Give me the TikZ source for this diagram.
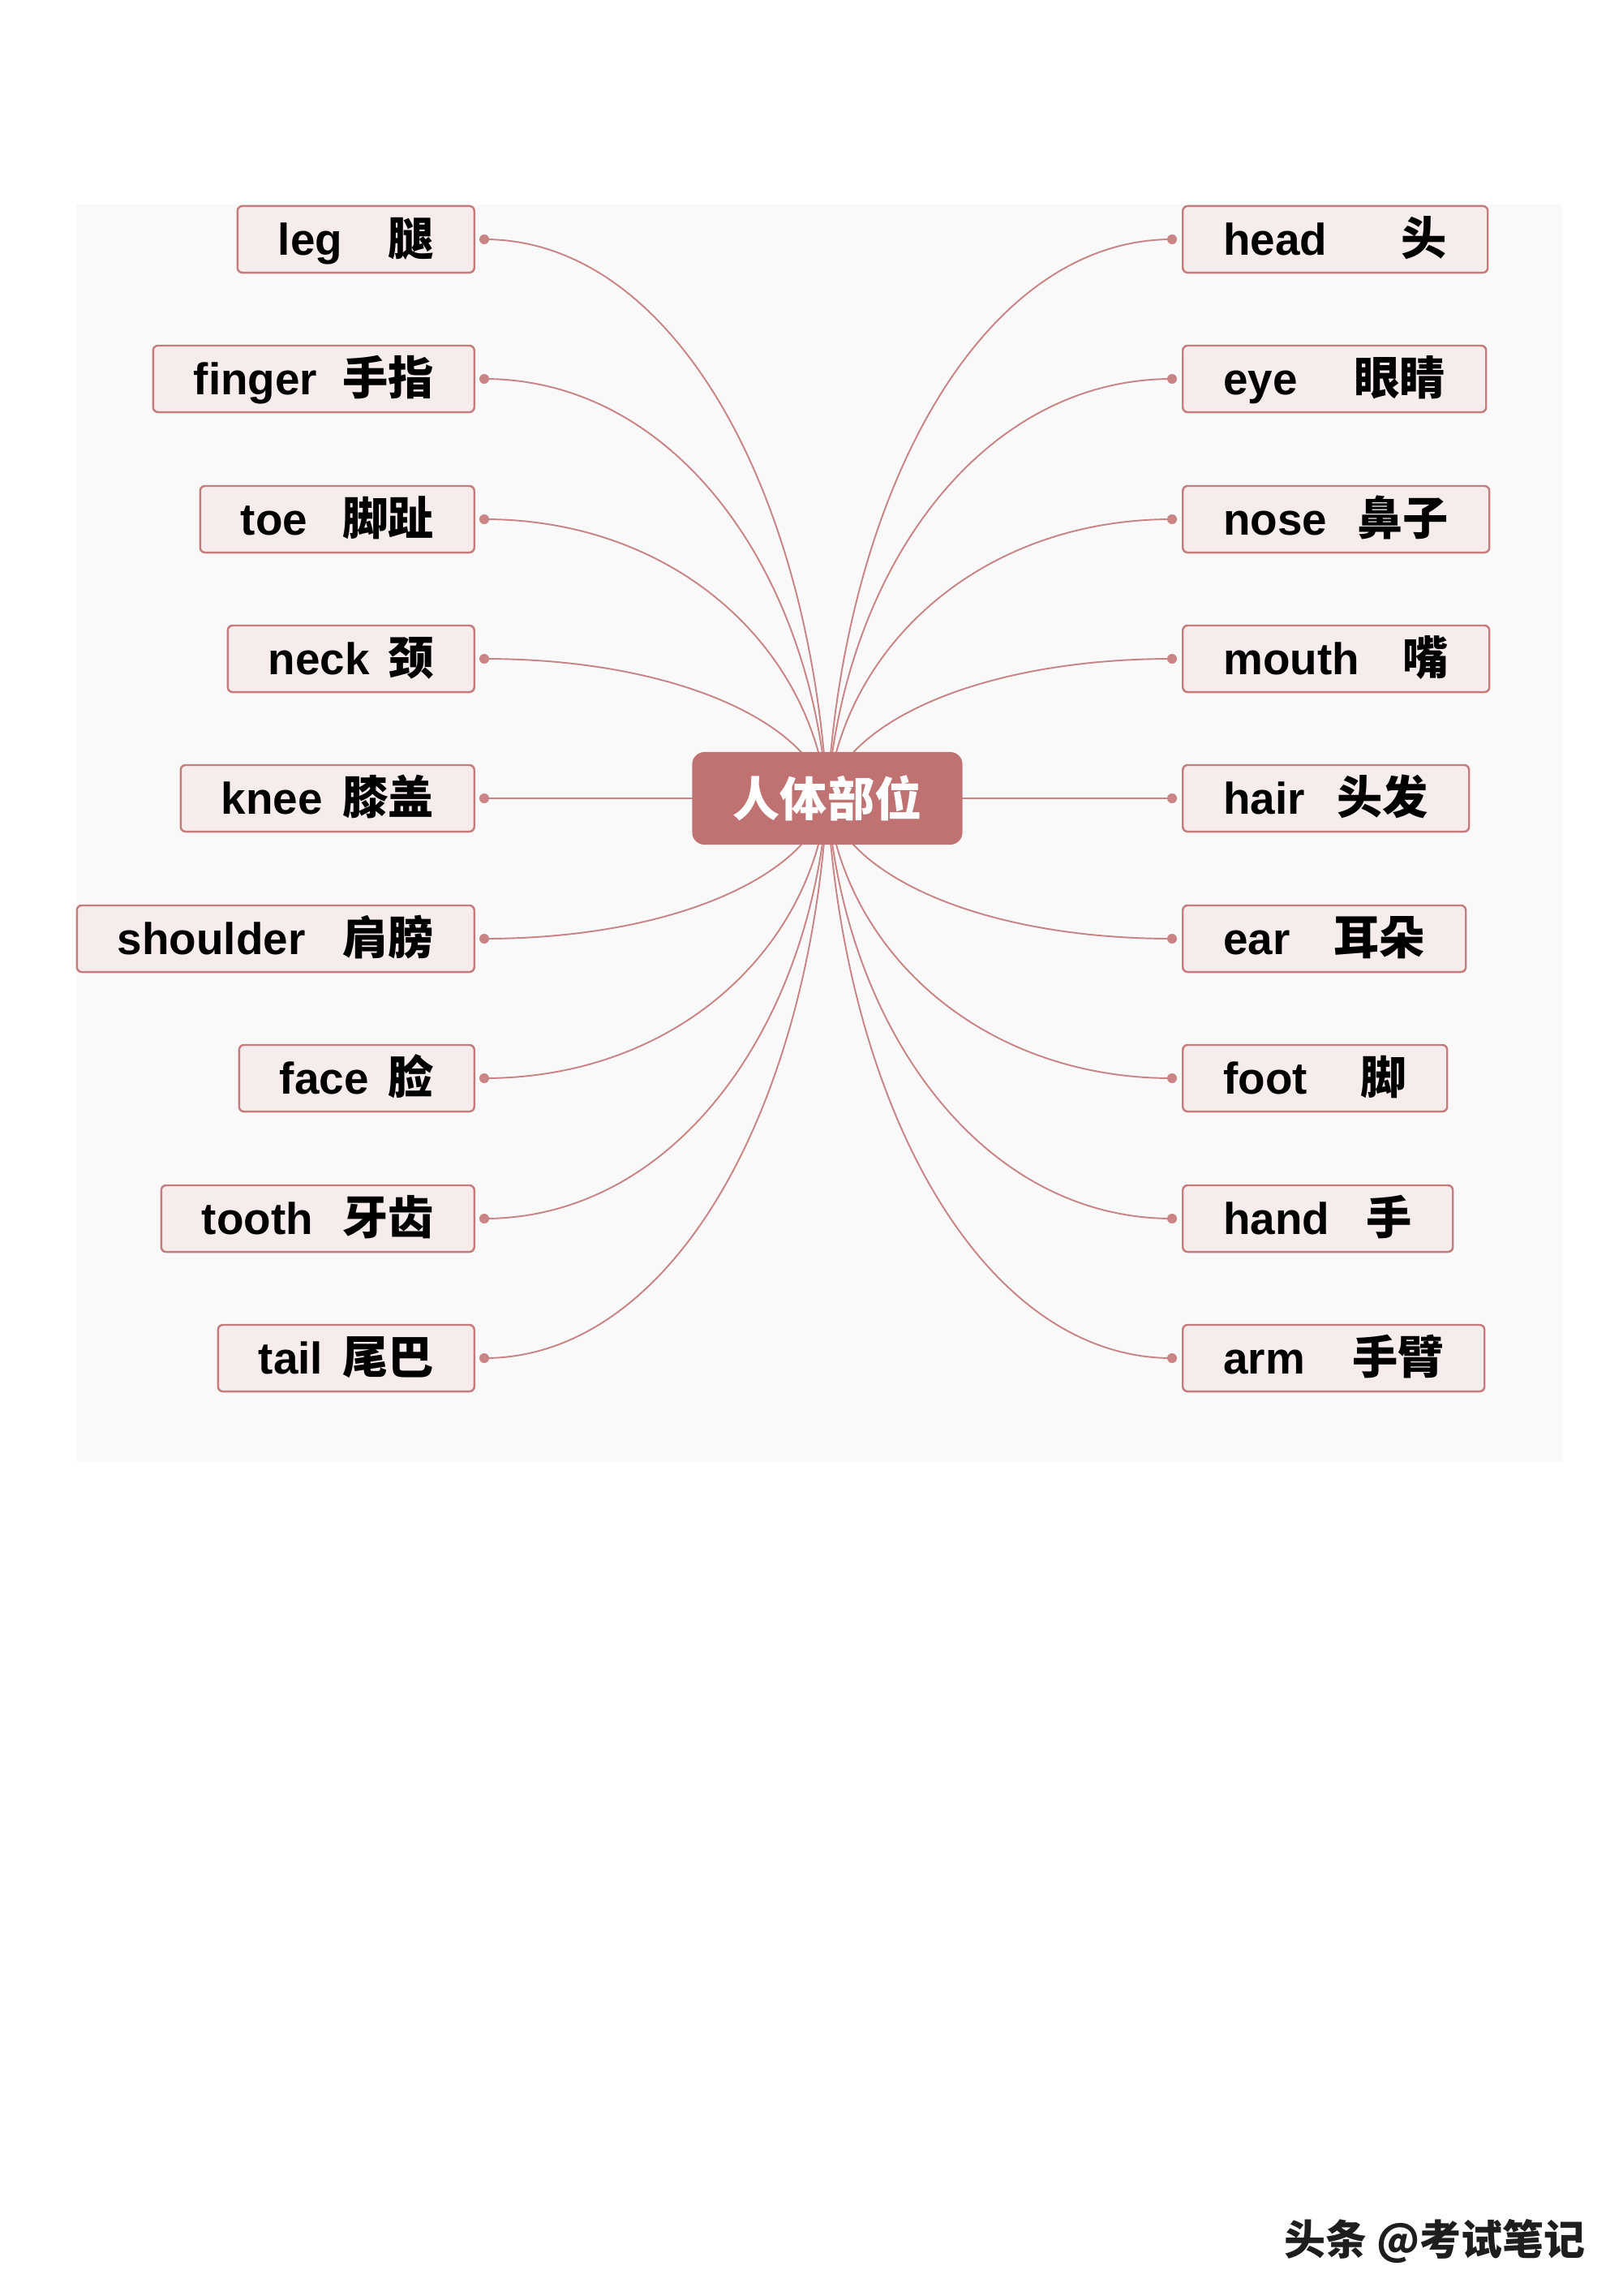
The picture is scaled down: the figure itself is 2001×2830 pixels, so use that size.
\documentclass[tikz,border=0pt]{standalone}
\usepackage{fontspec}
\setmainfont{Liberation Sans}
\newfontfamily\cjk{Noto Sans CJK SC}
\usetikzlibrary{backgrounds}
\definecolor{panel}{HTML}{F9F9F9}
\definecolor{boxfill}{HTML}{F6ECEC}
\definecolor{boxline}{HTML}{C47C7C}
\definecolor{hubfill}{HTML}{BF7271}
\definecolor{conncol}{HTML}{C98585}
\definecolor{wmark}{HTML}{1E1E1E}

\newcommand{\LItem}[5]{%
  \node[itembox, anchor=east] (#1) at (586,#2) {\makebox[\dimexpr 0.01cm*#3-1cm\relax]{#4\hfill{\cjk\fontsize{16}{18}\selectfont #5}}};
  \node[dotnode] (#1d) at (597,#2) {};
  \pgfmathsetmacro\cyy{984+0.55*(#2-984)}
  \begin{scope}[on background layer]
    \draw[conn] (hub.center) .. controls (999,\cyy) and (830,#2) .. (#1d.center);
  \end{scope}
}
\newcommand{\RItem}[5]{%
  \node[itembox, anchor=west] (#1) at (1457,#2) {\makebox[\dimexpr 0.01cm*#3-1cm\relax]{#4\hfill{\cjk\fontsize{16}{18}\selectfont #5}}};
  \node[dotnode] (#1d) at (1445,#2) {};
  \pgfmathsetmacro\cyy{984+0.55*(#2-984)}
  \begin{scope}[on background layer]
    \draw[conn] (hub.center) .. controls (1041,\cyy) and (1211,#2) .. (#1d.center);
  \end{scope}
}

\begin{document}
\begin{tikzpicture}[x=0.01cm,y=-0.01cm,
  itembox/.style={draw=boxline, fill=boxfill, line width=0.7pt, rounded corners=0.06cm,
    inner xsep=0.5cm, inner ysep=0pt, text height=0.60cm, text depth=0.22cm,
    font=\fontsize{15.6}{18}\selectfont\bfseries},
  hub/.style={fill=hubfill, rounded corners=0.15cm, minimum width=3.33cm, minimum height=1.14cm,
    inner sep=0pt, text=white, font=\cjk\fontsize{16.5}{18}\selectfont\bfseries},
  dotnode/.style={circle, fill=conncol, inner sep=0pt, minimum size=0.12cm},
  conn/.style={draw=conncol, line width=0.55pt},
  wm/.style={text=wmark, font=\cjk\fontsize{14.5}{16}\selectfont\bfseries, inner sep=0pt}
]
\useasboundingbox (0,0) rectangle (2001,2830);
\begin{scope}[on background layer]
  \fill[white] (0,0) rectangle (2001,2830);
  \fill[panel] (94,252) rectangle (1926,1802);
\end{scope}

\node[hub] (hub) at (1020,984) {人体部位};

\LItem{leg}{295}{292}{leg}{腿}
\LItem{finger}{467}{396}{finger}{手指}
\LItem{toe}{640}{338}{toe}{脚趾}
\LItem{neck}{812}{304}{neck}{颈}
\LItem{knee}{984}{362}{knee}{膝盖}
\LItem{shoulder}{1157}{490}{shoulder}{肩膀}
\LItem{face}{1329}{290}{face}{脸}
\LItem{tooth}{1502}{386}{tooth}{牙齿}
\LItem{tail}{1674}{316}{tail}{尾巴}

\RItem{head}{295}{376}{head}{头}
\RItem{eye}{467}{374}{eye}{眼睛}
\RItem{nose}{640}{378}{nose}{鼻子}
\RItem{mouth}{812}{378}{mouth}{嘴}
\RItem{hair}{984}{353}{hair}{头发}
\RItem{ear}{1157}{349}{ear}{耳朵}
\RItem{foot}{1329}{326}{foot}{脚}
\RItem{hand}{1502}{333}{hand}{手}
\RItem{arm}{1674}{372}{arm}{手臂}

\node[wm, anchor=east] (wm) at (1955,2762) {头条 @考试笔记};
\end{tikzpicture}
\end{document}
